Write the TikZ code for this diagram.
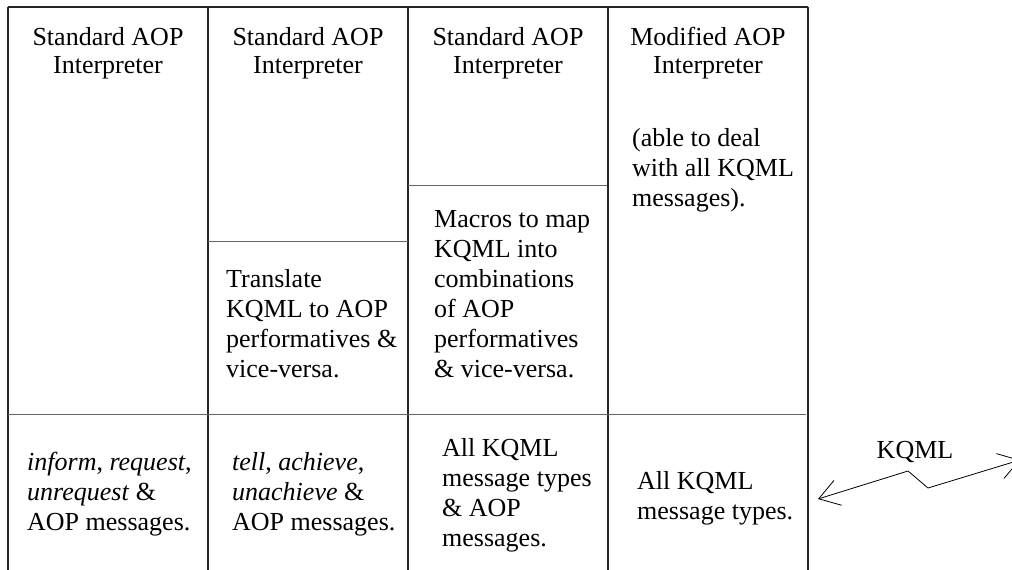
\documentclass[tikz,border=0pt]{standalone}
\usepackage{fontspec}
\setmainfont{Liberation Serif}
\usetikzlibrary{arrows.meta,positioning}

\tikzset{
  headtext/.style={align=center, anchor=base, inner sep=0pt, font=\fontsize{26}{28}\selectfont},
  celltext/.style={align=left, anchor=base west, inner sep=0pt, font=\fontsize{26}{30}\selectfont},
  vrule/.style={draw=black!85, line width=1.2pt},
  hrule/.style={draw=black!60, line width=1pt},
  kqmlarrow/.style={line width=0.8pt, {Straight Barb[length=20pt,width=26pt]}-{Straight Barb[length=20pt,width=26pt]}}
}

\begin{document}
\begin{tikzpicture}[x=1pt,y=-1pt]
\clip (0,0) rectangle (1012,570);

% Table frame
\draw[vrule] (8,7) -- (808,7);
\foreach \col in {0,...,4} {
    \draw[vrule] (8+\col*200, 7) -- (8+\col*200, 570);
}
\draw[hrule] (8,414) -- (806,414);
\draw[hrule] (208,241) -- (408,241);
\draw[hrule] (408,185) -- (607,185);

% Interpreter headers (anchored at last baseline)
\foreach \col/\kind in {0/Standard,1/Standard,2/Standard,3/Modified} {
    \node[headtext] (head\col) at (108+\col*200, 73) {\kind{} AOP\\Interpreter};
}

% Middle cells
\node[celltext] (transl) at (226,377) {Translate\\KQML to AOP\\performatives \&\\vice-versa.};
\node[celltext] (macros) at (434,377) {Macros to map\\KQML into\\combinations\\of AOP\\performatives\\\& vice-versa.};
\node[celltext] (able) at (632,206) {(able to deal\\with all KQML\\messages).};

% Message cells
\node[celltext] (msgA) at (27,530) {\textit{inform}, \textit{request},\\\textit{unrequest} \&\\AOP messages.};
\node[celltext] (msgB) at (232,530) {\textit{tell}, \textit{achieve},\\\textit{unachieve} \&\\AOP messages.};
\node[celltext] (msgC) at (442,546) {All KQML\\message types\\\& AOP\\messages.};
\node[celltext] (msgD) at (637,519) {All KQML\\message types.};

% KQML link
\coordinate (kqmlL) at (818,499);
\coordinate (kinkA) at (908,471);
\coordinate (kinkB) at (928,488);
\coordinate (kqmlR) at (1020,460);
\draw[kqmlarrow] (kqmlL) -- (kinkA) -- (kinkB) -- (kqmlR);
\node[headtext] (kqml) at (915,458) {KQML};

\end{tikzpicture}
\end{document}
